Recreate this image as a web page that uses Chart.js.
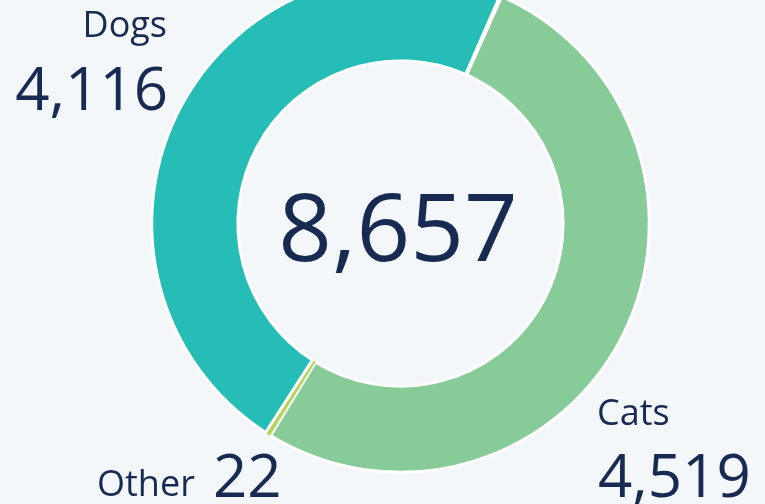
<!DOCTYPE html>
<html>
<head>
<meta charset="utf-8">
<script src="https://cdn.jsdelivr.net/npm/chart.js@4"></script>
<style>
  html, body { margin: 0; padding: 0; }
  body { width: 765px; height: 504px; overflow: hidden; background: #f4f7f9; position: relative;
         font-family: "Open Sans", sans-serif; color: #172a52; }
  #wrap { position: absolute; left: 0; top: -40px; width: 765px; height: 544px; }
  .t { position: absolute; line-height: 1; white-space: nowrap; }
  .name { font-size: 36px; }
  .num { font-size: 60px; }
  #total { font-size: 94px; }
</style>
</head>
<body>
<div id="wrap"><canvas id="ch" width="765" height="544"></canvas></div>
<div class="t name" id="lDogs" style="right:598px; top:6px;"></div>
<div class="t num" id="vDogs" style="right:597px; top:57px;"></div>
<div class="t" id="total" style="left:0; width:796px; text-align:center; top:178px;"></div>
<div class="t name" id="lOther" style="left:97px; top:465px;"></div>
<div class="t num" id="vOther" style="left:213px; top:444px;"></div>
<div class="t name" id="lCats" style="left:597px; top:394px;"></div>
<div class="t num" id="vCats" style="left:598px; top:444px;"></div>
<script>
// slices in clockwise order starting from the Dogs/Cats split
let labels = ['Cats', 'Other', 'Dogs'];
let values = [4519, 22, 4116];
let colors = ['#86cb98', '#b3d35a', '#27bdb7'];

let fmt = (n) => n.toLocaleString('en-US');
let total = values.reduce((a, b) => a + b, 0);

labels.forEach((l, i) => {
    document.getElementById('l' + l).textContent = l;
    document.getElementById('v' + l).textContent = fmt(values[i]);
});
document.getElementById('total').textContent = fmt(total);

// ring placement inside the (taller, shifted) canvas
let R = 250.25;
let cx = 400.5, cy = 263.5;
let W = 765, H = 544;

let pie = new Chart('ch', {
    type: 'doughnut',
    data: {
        labels: labels,
        datasets: [{
            data: values,
            backgroundColor: colors,
            borderColor: ['#ffffff', colors[1], '#ffffff'],
            borderWidth: [3, 1, 3],
            spacing: 1
        }]
    },
    options: {
        responsive: false,
        animation: false,
        rotation: 23.8,
        cutout: '65.3%',
        layout: {
            padding: { left: cx - R, right: W - cx - R, top: cy - R, bottom: H - cy - R }
        },
        plugins: {
            legend: { display: false },
            tooltip: { enabled: false }
        }
    }
});
</script>
</body>
</html>
